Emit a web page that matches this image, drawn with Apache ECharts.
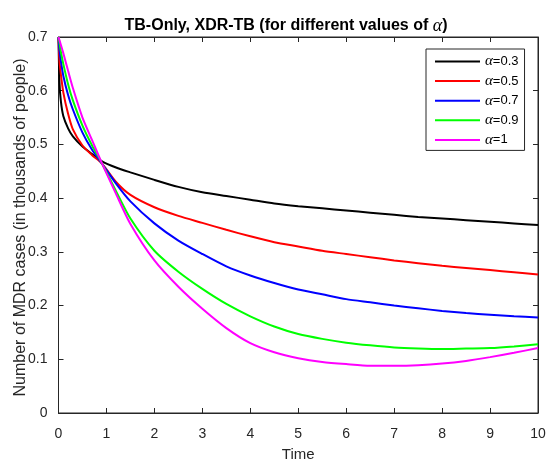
<!DOCTYPE html>
<html><head><meta charset="utf-8">
<script src="https://cdn.jsdelivr.net/npm/echarts@6/dist/echarts.min.js"></script>
<style>html,body{margin:0;padding:0;background:#fff}#c{width:547px;height:459px}</style>
</head><body><div id="c"></div>
<script>
const time    = [0, 0.02, 0.05, 0.1, 0.2, 0.3, 0.5, 0.7, 0.9, 1.2, 1.5, 2, 2.5, 3, 3.5, 4, 4.5, 5, 5.5, 6, 6.5, 7, 7.5, 8, 8.5, 9, 9.5, 10];
const alpha03 = [0.700, 0.615, 0.580, 0.553, 0.530, 0.515, 0.496, 0.482, 0.469, 0.457, 0.448, 0.434, 0.421, 0.411, 0.404, 0.397, 0.390, 0.385, 0.381, 0.377, 0.373, 0.369, 0.365, 0.362, 0.359, 0.356, 0.353, 0.350];
const alpha05 = [0.700, 0.655, 0.630, 0.597, 0.557, 0.528, 0.498, 0.480, 0.465, 0.430, 0.406, 0.383, 0.367, 0.354, 0.341, 0.329, 0.318, 0.310, 0.302, 0.296, 0.290, 0.284, 0.279, 0.274, 0.270, 0.266, 0.262, 0.258];
const alpha07 = [0.700, 0.675, 0.655, 0.628, 0.592, 0.565, 0.522, 0.490, 0.465, 0.427, 0.394, 0.353, 0.321, 0.296, 0.273, 0.256, 0.242, 0.230, 0.221, 0.212, 0.206, 0.200, 0.195, 0.190, 0.186, 0.183, 0.180, 0.178];
const alpha09 = [0.700, 0.690, 0.672, 0.650, 0.612, 0.582, 0.535, 0.498, 0.466, 0.413, 0.362, 0.302, 0.263, 0.231, 0.203, 0.180, 0.161, 0.147, 0.138, 0.131, 0.126, 0.122, 0.120, 0.119, 0.120, 0.121, 0.124, 0.128];
const alpha10 = [0.700, 0.694, 0.685, 0.670, 0.637, 0.605, 0.550, 0.508, 0.466, 0.408, 0.352, 0.284, 0.235, 0.194, 0.158, 0.130, 0.113, 0.102, 0.095, 0.091, 0.088, 0.088, 0.089, 0.092, 0.097, 0.104, 0.112, 0.121];
const seriesNames  = ['α=0.3', 'α=0.5', 'α=0.7', 'α=0.9', 'α=1'];
const seriesValues = [alpha03, alpha05, alpha07, alpha09, alpha10];
const seriesColors = ['#000000', '#ff0000', '#0000ff', '#00ff00', '#ff00ff'];

const axisColor = '#262626';
const chart = echarts.init(document.getElementById('c'), null, {renderer: 'canvas'});

function xAxisDef(pos) {
  return {type: 'value', min: 0, max: 10, interval: 1, position: pos, gridIndex: 0,
    axisLine: {show: true, onZero: false, lineStyle: {color: axisColor, width: 1}},
    splitLine: {show: false},
    axisTick: {show: true, inside: true, length: 5, lineStyle: {color: axisColor, width: 1}}};
}
function yAxisDef(pos) {
  return {type: 'value', min: 0, max: 0.7, interval: 0.1, position: pos, gridIndex: 0,
    axisLine: {show: true, onZero: false, lineStyle: {color: axisColor, width: 1}},
    splitLine: {show: false},
    axisTick: {show: true, inside: true, length: 5, lineStyle: {color: axisColor, width: 1}}};
}

const bottomX = xAxisDef('bottom');
Object.assign(bottomX, {name: 'Time', nameLocation: 'middle', nameGap: 34,
  nameTextStyle: {fontFamily: 'Liberation Sans', fontSize: 15, color: axisColor},
  axisLabel: {show: true, fontFamily: 'Liberation Sans', fontSize: 14, color: axisColor, margin: 14}});
const topX = xAxisDef('top');
topX.axisLabel = {show: false};
const leftY = yAxisDef('left');
Object.assign(leftY, {name: 'Number of MDR cases (in thousands of people)',
  nameLocation: 'middle', nameGap: 30, nameMoveOverlap: false,
  nameTextStyle: {fontFamily: 'Liberation Sans', fontSize: 16, color: axisColor, padding: [0, 5, 0, 0]},
  axisLabel: {show: true, fontFamily: 'Liberation Sans', fontSize: 14, color: axisColor, margin: 11,
    formatter: v => String(+v.toFixed(1))}});
const rightY = yAxisDef('right');
rightY.axisLabel = {show: false};

const curveSeries = seriesNames.map((name, i) => ({
  name, type: 'line', xAxisIndex: 0, yAxisIndex: 0,
  symbol: 'none', smooth: 0.25,
  color: seriesColors[i],
  lineStyle: {color: seriesColors[i], width: 2},
  data: time.map((t, j) => [t, seriesValues[i][j]])
}));
// invisible helper so the top/right box axes get an extent
curveSeries.push({name: '_box', type: 'line', xAxisIndex: 1, yAxisIndex: 1, symbol: 'none',
  silent: true, lineStyle: {opacity: 0}, data: [[0, 0], [10, 0.7]]});

chart.setOption({
  animation: false,
  backgroundColor: '#ffffff',
  title: {
    text: 'TB-Only, XDR-TB (for different values of {a|α})',
    left: 281, top: 12, textAlign: 'center',
    textStyle: {fontFamily: 'Liberation Sans', fontSize: 16, fontWeight: 'bold', color: '#000',
      rich: {a: {fontFamily: 'Liberation Serif', fontStyle: 'italic', fontWeight: 'normal', fontSize: 18, color: '#000'}}}
  },
  grid: {left: 58.5, right: 9, top: 37, bottom: 46, containLabel: false, outerBoundsMode: 'none',
    show: true, borderColor: axisColor, borderWidth: 1, backgroundColor: 'transparent'},
  legend: {
    orient: 'vertical', left: 426, top: 49,
    padding: [5, 6, 3, 9], itemGap: 4.6, itemWidth: 45, itemHeight: 2,
    icon: 'rect',
    borderColor: axisColor, borderWidth: 1, backgroundColor: '#fff',
    data: seriesNames,
    formatter: n => '{a|α}' + n.slice(1),
    textStyle: {fontFamily: 'Liberation Sans', fontSize: 13, color: '#000', lineHeight: 14,
      rich: {a: {fontFamily: 'Liberation Serif', fontStyle: 'italic', fontSize: 15, lineHeight: 14, color: '#000'}}}
  },
  xAxis: [bottomX, topX],
  yAxis: [leftY, rightY],
  series: curveSeries
});
</script></body></html>
